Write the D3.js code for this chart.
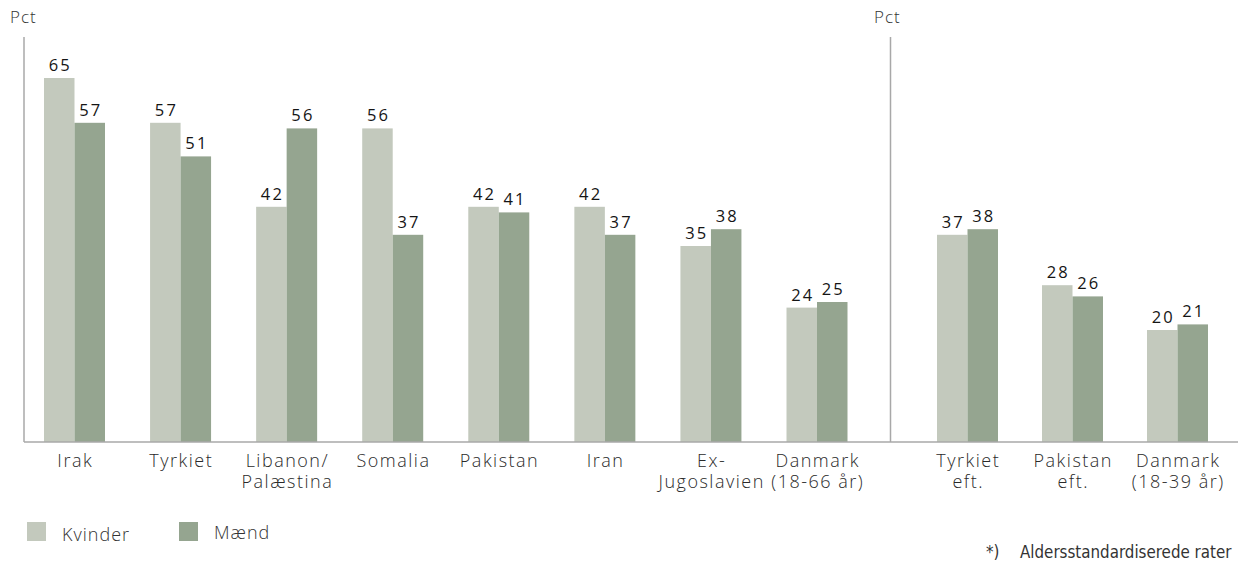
<!DOCTYPE html>
<html><head><meta charset="utf-8">
<script src="https://cdn.jsdelivr.net/npm/d3@7"></script>
<style>
body{margin:0;background:#fff;}
svg{display:block;}
</style></head>
<body>
<svg id="chart" width="1242" height="564"></svg>
<script>
const categoriesLeft = [["Irak"],["Tyrkiet"],["Libanon/","Palæstina"],["Somalia"],["Pakistan"],["Iran"],["Ex-","Jugoslavien"],["Danmark","(18-66 år)"]];
const kvinderLeft = [65,57,42,56,42,42,35,24];
const maendLeft   = [57,51,56,37,41,37,38,25];
const categoriesRight = [["Tyrkiet","eft."],["Pakistan","eft."],["Danmark","(18-39 år)"]];
const kvinderRight = [37,28,20];
const maendRight   = [38,26,21];
const seriesNames = ["Kvinder","Mænd"];
const colors = ["#c3c9bd","#95a590"];

const svg = d3.select("#chart");
const font = "'Open Sans', sans-serif";
const y = d3.scaleLinear().domain([0,65]).range([442, 442-65*5.6]);

function panel(cats, kv, ma, x0, x1) {
  const names = cats.map(c=>c.join(" "));
  const x = d3.scalePoint().domain(names).range([x0,x1]);
  const xs = d3.scaleBand().domain(seriesNames).range([-30.5,30.5]).padding(0);
  const data = names.map((n,i)=>({n, cat:cats[i], vals:[kv[i],ma[i]]}));
  const g = svg.append("g");
  data.forEach(d=>{
    d.vals.forEach((v,j)=>{
      g.append("rect")
        .attr("x", x(d.n)+xs(seriesNames[j]))
        .attr("width", xs.bandwidth())
        .attr("y", y(v))
        .attr("height", y(0)-y(v))
        .attr("fill", colors[j]);
      g.append("text")
        .attr("x", x(d.n)+xs(seriesNames[j])+xs.bandwidth()/2 + 1.1)
        .attr("y", y(v)-7)
        .attr("text-anchor","middle")
        .attr("font-family", font)
        .attr("font-size", 16.5)
        .attr("font-weight", 500)
        .attr("letter-spacing", 2.2)
        .attr("fill","#151515")
        .text(v);
    });
    d.cat.forEach((line,k)=>{
      g.append("text")
        .attr("x", x(d.n)+0.75)
        .attr("y", 467 + k*21)
        .attr("text-anchor","middle")
        .attr("font-family", font)
        .attr("font-size", 18)
        .attr("font-weight", 300)
        .attr("letter-spacing", 1.5)
        .attr("fill","#2a2a2a")
        .text(line);
    });
  });
}

panel(categoriesLeft, kvinderLeft, maendLeft, 74.5, 817);
panel(categoriesRight, kvinderRight, maendRight, 967.5, 1177.5);

// axes lines
svg.append("line").attr("x1",24).attr("x2",24).attr("y1",37).attr("y2",y(0)).attr("stroke","#a8a8a8").attr("stroke-width",1.5);
svg.append("line").attr("x1",890.5).attr("x2",890.5).attr("y1",37).attr("y2",y(0)).attr("stroke","#a8a8a8").attr("stroke-width",1.5);
svg.append("line").attr("x1",24).attr("x2",1238).attr("y1",y(0)).attr("y2",y(0)).attr("stroke","#a8a8a8").attr("stroke-width",1.5);

svg.append("text").attr("x",10).attr("y",23).attr("font-family",font).attr("font-size",17).attr("font-weight",300).attr("letter-spacing",1).attr("fill","#333").text("Pct");
svg.append("text").attr("x",874).attr("y",23).attr("font-family",font).attr("font-size",17).attr("font-weight",300).attr("letter-spacing",1).attr("fill","#333").text("Pct");

// legend
const legX = [27,179];
seriesNames.forEach((s,i)=>{
  svg.append("rect").attr("x",legX[i]).attr("y",522).attr("width",19).attr("height",19).attr("fill",colors[i]);
  svg.append("text").attr("x",legX[i]+35).attr("y",i===0?541:539).attr("font-family",font).attr("font-size",18).attr("font-weight",300).attr("letter-spacing",1).attr("fill","#333").text(s);
});

// footnote
const fnFont = "'DejaVu Sans Condensed', 'DejaVu Sans', sans-serif";
svg.append("text").attr("x",986).attr("y",558).attr("font-family",fnFont).attr("font-stretch","condensed").attr("font-size",16.8).attr("font-weight",300).attr("fill","#333").text("*)");
svg.append("text").attr("x",1020).attr("y",558).attr("font-family",fnFont).attr("font-stretch","condensed").attr("font-size",16.8).attr("font-weight",300).attr("fill","#333").text("Aldersstandardiserede rater");
</script>
</body></html>
